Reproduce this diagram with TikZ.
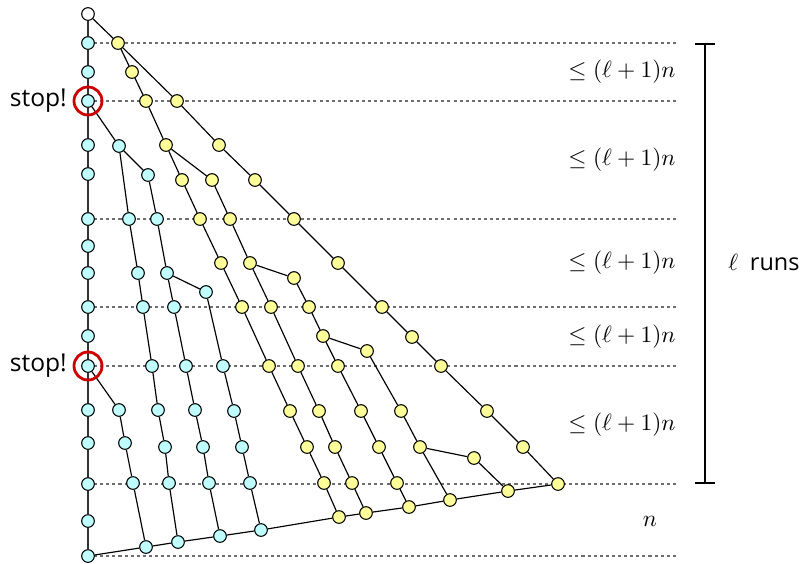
\documentclass[tikz,border=0pt]{standalone}
\usepackage{fontspec}
\setsansfont{Open Sans}
\definecolor{runcyan}{RGB}{191,255,255}
\definecolor{runyellow}{RGB}{255,255,153}
\definecolor{stopred}{RGB}{204,0,0}
\definecolor{guidegray}{RGB}{110,110,110}
\usetikzlibrary{arrows.meta,positioning,backgrounds}

\begin{document}
\begin{tikzpicture}[
  x=0.015cm, y=-0.015cm,
  pt/.style={
    circle, draw=black, line width=0.45pt,
    inner sep=0pt, minimum size=0.19cm
  },
  cpt/.style={pt, fill=runcyan},
  ypt/.style={pt, fill=runyellow},
  link/.style={draw=black, line width=0.5pt},
  spine/.style={draw=black!80, line width=0.8pt},
  guide/.style={draw=guidegray, line width=0.45pt, dash pattern=on 1.3pt off 1.3pt},
  ring/.style={circle, draw=stopred, line width=1.2pt, minimum size=0.42cm, inner sep=0pt},
  bound/.style={anchor=east, inner sep=0pt}
]
\useasboundingbox (0,0) rectangle (802,563);

% left column
\node[pt, fill=white] (v1) at (88,14) {};
\node[cpt] (v2)  at (88,43)  {};
\node[cpt] (v3)  at (88,72)  {};
\node[cpt] (v4)  at (88,101) {};
\node[cpt] (v5)  at (88,145) {};
\node[cpt] (v6)  at (88,174) {};
\node[cpt] (v7)  at (88,219) {};
\node[cpt] (v8)  at (88,246) {};
\node[cpt] (v9)  at (88,273) {};
\node[cpt] (v10) at (88,307) {};
\node[cpt] (v11) at (88,336) {};
\node[cpt] (v12) at (88,366) {};
\node[cpt] (v13) at (88,410) {};
\node[cpt] (v14) at (88,443) {};
\node[cpt] (v15) at (88,484) {};
\node[cpt] (v16) at (88,521) {};
\node[cpt] (v17) at (88,556) {};

% long diagonal
\node[ypt] (h1)  at (118,43)  {};
\node[ypt] (h2)  at (177,101) {};
\node[ypt] (h3)  at (219,145) {};
\node[ypt] (h4)  at (255,180) {};
\node[ypt] (h5)  at (294,219) {};
\node[ypt] (h6)  at (338,263) {};
\node[ypt] (h7)  at (382,307) {};
\node[ypt] (h8)  at (412,337) {};
\node[ypt] (h9)  at (441,366) {};
\node[ypt] (h10) at (487,411) {};
\node[ypt] (h11) at (523,447) {};
\node[ypt] (h12) at (558,484) {};

% bottom line
\node[cpt] (w1) at (146,547) {};
\node[cpt] (w2) at (178,542) {};
\node[cpt] (w3) at (220,536) {};
\node[cpt] (w4) at (261,530) {};
\node[ypt] (w5) at (339,517) {};
\node[ypt] (w6) at (366,513) {};
\node[ypt] (w7) at (409,507) {};
\node[ypt] (w8) at (450,500) {};
\node[ypt] (w9) at (508,491) {};

% cyan runs
\node[cpt] (c1) at (119,146) {};
\node[cpt] (c2) at (148,175) {};
\node[cpt] (ca1) at (129,219) {};
\node[cpt] (ca2) at (138,273) {};
\node[cpt] (ca3) at (143,307) {};
\node[cpt] (ca4) at (152,366) {};
\node[cpt] (ca5) at (158,410) {};
\node[cpt] (ca6) at (165,447) {};
\node[cpt] (ca7) at (169,483) {};
\node[cpt] (cb1) at (157,219) {};
\node[cpt] (cb2) at (167,273) {};
\node[cpt] (cb3) at (174,307) {};
\node[cpt] (cb4) at (186,366) {};
\node[cpt] (cb5) at (195,410) {};
\node[cpt] (cb6) at (203,447) {};
\node[cpt] (cb7) at (209,483) {};
\node[cpt] (cc1) at (206,292) {};
\node[cpt] (cc2) at (223,366) {};
\node[cpt] (cc3) at (234,411) {};
\node[cpt] (cc4) at (242,447) {};
\node[cpt] (cc5) at (250,483) {};
\node[cpt] (cd1) at (119,410) {};
\node[cpt] (cd2) at (125,443) {};
\node[cpt] (cd3) at (133,483) {};

% yellow runs
\node[ypt] (y1) at (132,72)  {};
\node[ypt] (y2) at (146,101) {};
\node[ypt] (y3) at (166,145) {};
\node[ypt] (ya1) at (182,180) {};
\node[ypt] (ya2) at (200,219) {};
\node[ypt] (ya3) at (221,263) {};
\node[ypt] (ya4) at (242,307) {};
\node[ypt] (ya5) at (269,366) {};
\node[ypt] (ya6) at (290,411) {};
\node[ypt] (ya7) at (307,447) {};
\node[ypt] (ya8) at (324,483) {};
\node[ypt] (yb1) at (212,180) {};
\node[ypt] (yb2) at (230,219) {};
\node[ypt] (yb3) at (250,263) {};
\node[ypt] (yb4) at (271,307) {};
\node[ypt] (yb5) at (298,366) {};
\node[ypt] (yb6) at (319,411) {};
\node[ypt] (yb7) at (335,447) {};
\node[ypt] (yb8) at (352,483) {};
\node[ypt] (yc1) at (294,278) {};
\node[ypt] (yc2) at (309,307) {};
\node[ypt] (yc3) at (323,336) {};
\node[ypt] (yc4) at (338,366) {};
\node[ypt] (yc5) at (361,411) {};
\node[ypt] (yc6) at (379,447) {};
\node[ypt] (yc7) at (397,483) {};
\node[ypt] (yd1) at (367,351) {};
\node[ypt] (yd2) at (401,411) {};
\node[ypt] (yd3) at (420,447) {};
\node[ypt] (ye1) at (474,458) {};

% dashed guides
\coordinate (gend) at (676,0);
\begin{scope}[on background layer]
\draw[guide] (v2.center)  -- (v2.center -| gend);
\draw[guide] (v4.center)  -- (v4.center -| gend);
\draw[guide] (v7.center)  -- (v7.center -| gend);
\draw[guide] (v10.center) -- (v10.center -| gend);
\draw[guide] (v12.center) -- (v12.center -| gend);
\draw[guide] (v15.center) -- (v15.center -| gend);
\draw[guide] (v17.center) -- (v17.center -| gend);
\end{scope}

\draw[spine] (v1) -- (v2) -- (v3) -- (v4) -- (v5) -- (v6) -- (v7) -- (v8) -- (v9)
  -- (v10) -- (v11) -- (v12) -- (v13) -- (v14) -- (v15) -- (v16) -- (v17);
\draw[link] (v1) -- (h1) -- (h2) -- (h3) -- (h4) -- (h5) -- (h6) -- (h7) -- (h8)
  -- (h9) -- (h10) -- (h11) -- (h12);
\draw[link] (v17) -- (w1) -- (w2) -- (w3) -- (w4) -- (w5) -- (w6) -- (w7) -- (w8)
  -- (w9) -- (h12);

\draw[link] (v4) -- (c1) -- (ca1) -- (ca2) -- (ca3) -- (ca4) -- (ca5) -- (ca6) -- (ca7) -- (w2);
\draw[link] (c1) -- (c2) -- (cb1) -- (cb2) -- (cb3) -- (cb4) -- (cb5) -- (cb6) -- (cb7) -- (w3);
\draw[link] (cb2) -- (cc1) -- (cc2) -- (cc3) -- (cc4) -- (cc5) -- (w4);
\draw[link] (v12) -- (cd1) -- (cd2) -- (cd3) -- (w1);

\draw[link] (h1) -- (y1) -- (y2) -- (y3) -- (ya1) -- (ya2) -- (ya3) -- (ya4) -- (ya5)
  -- (ya6) -- (ya7) -- (ya8) -- (w5);
\draw[link] (y3) -- (yb1) -- (yb2) -- (yb3) -- (yb4) -- (yb5) -- (yb6) -- (yb7) -- (yb8) -- (w6);
\draw[link] (yb3) -- (yc1) -- (yc2) -- (yc3) -- (yc4) -- (yc5) -- (yc6) -- (yc7) -- (w7);
\draw[link] (yc3) -- (yd1) -- (yd2) -- (yd3) -- (w8);
\draw[link] (yd3) -- (ye1) -- (w9);

% stops
\node[ring] (ring1) at (v4) {};
\node[ring] (ring2) at (v12) {};
\node[left=0.08cm of ring1, inner sep=0pt, font=\sffamily\fontsize{10.5}{12}\selectfont] (stop1) {stop!};
\node[left=0.08cm of ring2, inner sep=0pt, font=\sffamily\fontsize{10.5}{12}\selectfont] (stop2) {stop!};

% bounds
\node[bound] (r1) at (676,72)  {$\leq(\ell+1)n$};
\node[bound] (r2) at (676,160) {$\leq(\ell+1)n$};
\node[bound] (r3) at (676,263) {$\leq(\ell+1)n$};
\node[bound] (r4) at (676,337) {$\leq(\ell+1)n$};
\node[bound] (r5) at (676,425) {$\leq(\ell+1)n$};
\node (nlab) at (650,521) {$n$};

\coordinate (btop) at (705,43);
\coordinate (bbot) at (705,484);
\draw[{Bar[width=0.3cm]}-{Bar[width=0.3cm]}, line width=0.8pt] (btop) -- (bbot);
\node[anchor=west, inner sep=0pt, font=\sffamily] (runs) at (728,262) {$\ell$\hspace{5pt}runs};
\end{tikzpicture}
\end{document}
